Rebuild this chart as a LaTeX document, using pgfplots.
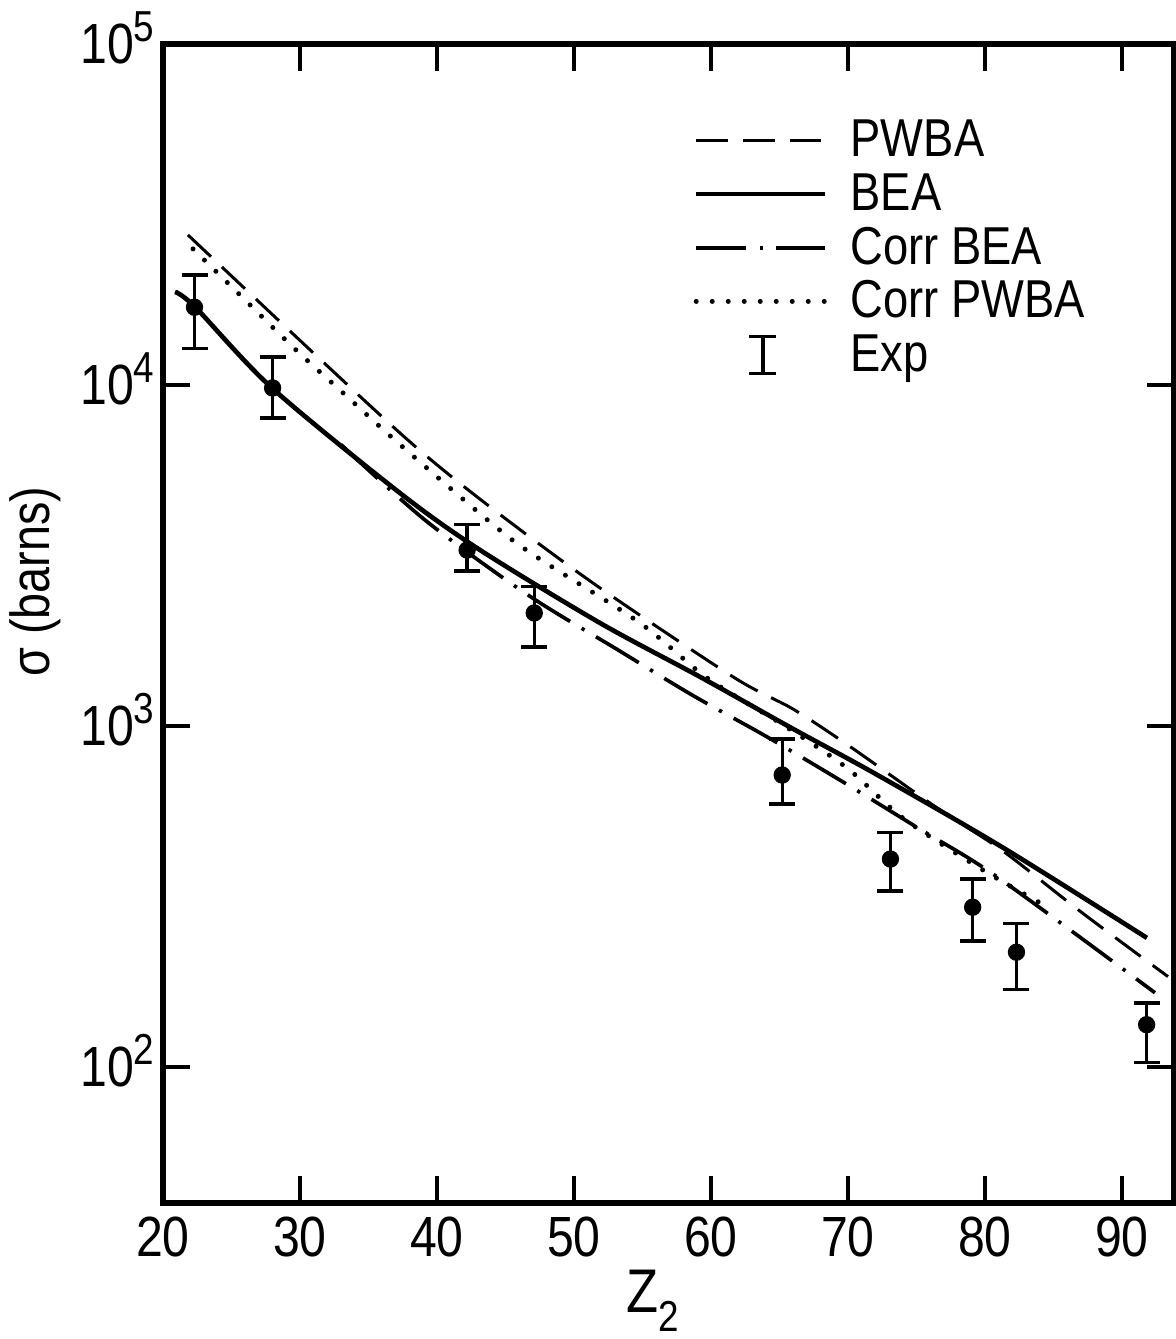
\documentclass[border=0pt]{standalone}
\usepackage{fontspec}
\setmainfont{Liberation Sans}[FakeStretch=0.85]
\usepackage{pgfplots}
\pgfplotsset{compat=1.18}
\newcommand{\ex}[1]{\smash{\raisebox{6.5pt}{\fontsize{13}{13}\selectfont #1}}}
\begin{document}
\begin{tikzpicture}
\useasboundingbox (-48.9pt,-40.8pt) rectangle (303.9pt,360.9pt);
\begin{axis}[
  at={(0pt,0pt)}, anchor=south west,
  scale only axis, width=303.3pt, height=347.7pt,
  xmin=20, xmax=93.8, ymode=log, ymin=39.9, ymax=1e5,
  /pgf/number format/assume math mode=true,
  xtick={20,30,...,90},
  ytick={100,1000,10000,100000},
  yticklabels={10\ex{2},10\ex{3},10\ex{4},10\ex{5}},
  yminorticks=false,
  tick align=inside, major tick length=8pt,
  tick style={line width=1pt,black},
  axis line style={line width=1.8pt,line join=miter},
  xticklabel style={font=\fontsize{17}{17}\selectfont,inner sep=0pt,yshift=-4pt},
  yticklabel style={font=\fontsize{17}{17}\selectfont,inner sep=0pt,anchor=east,xshift=-2.4pt},
  xlabel={Z\raisebox{-5.5pt}{\fontsize{13}{13}\selectfont 2}},
  every axis x label/.style={at={(rel axis cs:0.484,0)},anchor=base,yshift=-33pt,font=\fontsize{18.5}{18.5}\selectfont},
  ylabel={σ (barns)},
  every axis y label/.style={at={(rel axis cs:-0.1266,0.536)},rotate=90,anchor=center,font=\fontsize{16.5}{16.5}\selectfont},
  legend image code/.code={\draw[#1] (0pt,1.5pt) -- (38.7pt,1.5pt);},
  legend cell align=left,
  legend style={draw=none,fill=none,at={(rel axis cs:0.5243,0.9362)},anchor=north west,
    inner sep=0pt,row sep=0pt,column sep=6.9pt,
    nodes={inner sep=0pt,font=\fontsize{16}{16}\selectfont,text height=11.5pt,text depth=4.6pt}},
]
% PWBA
\addplot[black,line width=0.9pt,dash pattern=on 9.5pt off 4.5pt,smooth] coordinates {
(21.82,27540) (30.73,12680) (38.03,6808) (43.50,4508) (51.39,2624) (61.61,1393)
(66.0,1120) (70.15,870) (76.5,575) (81.3,430) (87.0,285) (93.36,184)};
\addlegendentry{PWBA}
% BEA
\addplot[black,line width=1.4pt,smooth] coordinates {
(20.88,18750) (22.34,16940) (27.96,9795) (37.30,4819) (43.14,3281) (51.90,2004)
(59.20,1393) (65.8,990) (72.1,720) (81.3,440) (91.82,239)};
\addlegendentry{BEA}
% Corr BEA
\addplot[black,line width=1.1pt,dash pattern=on 15pt off 4pt on 1pt off 4pt,smooth] coordinates {
(33.0,6683) (39.12,4018) (46.64,2421) (53.21,1671) (58.61,1233) (64.09,929)
(69.64,685) (75.11,502) (80.88,361) (92.41,165)};
\addlegendentry{Corr BEA}
% Corr PWBA
\addplot[black,line width=1.5pt,line cap=round,dash pattern=on 0pt off 4.8pt,smooth] coordinates {
(22.19,25060) (25.47,18620) (29.49,12910) (32.92,9660) (37.08,6808) (43.87,3963)
(47.15,3154) (54.82,2004) (59.71,1383) (65.26,1007) (69.93,753) (74.01,537)
(79.85,378) (84.01,303)};
\addlegendentry{Corr PWBA}
\addlegendimage{legend image code/.code={\draw[line width=1pt] (20pt,-4pt) -- (20pt,7.1pt) (15.95pt,7.1pt) -- (24.05pt,7.1pt) (15.95pt,-4pt) -- (24.05pt,-4pt);}}
\addlegendentry{Exp}
% Exp
\addplot[black,only marks,mark=*,mark size=2.4pt,forget plot,
  error bars/.cd,y dir=both,y explicit,
  error bar style={line width=1pt,solid},
  error mark=|,
  error mark options={draw=black,solid,line width=1pt,mark size=3.9pt}] coordinates {
(22.3,16900) += (0,4100) -= (0,4100)
(28.0,9800) += (0,2280) -= (0,1800)
(42.2,3280) += (0,610) -= (0,430)
(47.1,2145) += (0,415) -= (0,439)
(65.2,718) += (0,198) -= (0,128)
(73.1,407) += (0,79) -= (0,79)
(79.1,294) += (0,62) -= (0,60)
(82.3,217) += (0,46) -= (0,48)
(91.8,133) += (0,21) -= (0,30)};
\end{axis}
\end{tikzpicture}
\end{document}
